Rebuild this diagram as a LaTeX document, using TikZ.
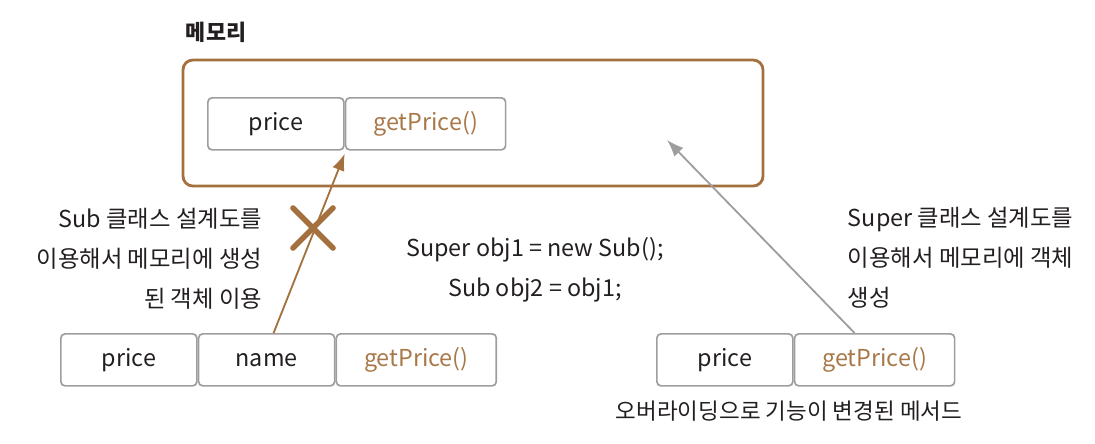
\documentclass[tikz,border=0pt]{standalone}
\usepackage{fontspec}
\setmainfont{Noto Sans CJK KR}
\usetikzlibrary{positioning,arrows.meta}
\definecolor{memBrown}{RGB}{164,112,62}
\definecolor{methodBrown}{RGB}{168,120,72}
\definecolor{boxGray}{RGB}{158,158,158}
\definecolor{textDark}{RGB}{35,31,32}

\tikzset{
  txt/.style={font=\fontsize{16.6}{28.5}\selectfont, text=textDark},
  field/.style={txt, draw=boxGray, line width=1.2pt, rounded corners=3pt,
    inner sep=0pt, minimum height=1.3cm, minimum width=3.4cm},
  method/.style={field, text=methodBrown, minimum width=4cm},
  memory/.style={draw=memBrown, line width=2pt, rounded corners=7pt}
}

\begin{document}
\begin{tikzpicture}[x=0.025cm, y=-0.025cm]
  \useasboundingbox (0,0) rectangle (1095,443);

  % memory area
  \node[txt, font=\fontsize{15.5}{18}\selectfont\bfseries, anchor=west] (memlabel) at (181,32) {메모리};
  \draw[memory] (183,60) rectangle (763,186);
  \node[field, anchor=north west] (tprice) at (207,97) {price};
  \node[method, right=0pt of tprice] (tget) {getPrice()};

  % object of Sub
  \node[field, anchor=north west] (lprice) at (60,333) {price};
  \node[field, right=0pt of lprice] (lname) {name};
  \node[method, right=0pt of lname] (lget) {getPrice()};

  % object of Super
  \node[field, anchor=north west] (rprice) at (656,333) {price};
  \node[method, right=0pt of rprice] (rget) {getPrice()};

  % explanations
  \node[txt, align=right, anchor=east] (subnote) at (267,259)
    {Sub 클래스 설계도를\\이용해서 메모리에 생성\\된 객체 이용};
  \node[txt, align=center] (code) at (535,270)
    {Super obj1 = new Sub();\\Sub obj2 = obj1;};
  \node[txt, align=left, anchor=west] (supernote) at (843,258)
    {Super 클래스 설계도를\\이용해서 메모리에 객체\\생성};
  \node[txt, font=\fontsize{16}{20}\selectfont] (overnote) at (789,411) {오버라이딩으로 기능이 변경된 메서드};

  % references
  \coordinate (lstart) at ([xshift=0.175cm]lname.north);
  \coordinate (ltarget) at ([yshift=-0.075cm]tget.south west);
  \draw[memBrown, line width=1.3pt, -{Latex[length=12pt,width=9pt]}] (lstart) -- (ltarget);
  \coordinate (rstart) at ([xshift=-0.5cm]rget.north);
  \coordinate (rtarget) at (667,140);
  \draw[boxGray, line width=1.3pt, -{Latex[length=12pt,width=9pt]}] (rstart) -- (rtarget);

  % cross
  \coordinate (cross) at (313,228);
  \draw[memBrown, line width=4pt, line cap=round]
    ([shift={(-20,-20)}]cross) -- ([shift={(20,20)}]cross)
    ([shift={(-20,20)}]cross) -- ([shift={(20,-20)}]cross);
\end{tikzpicture}
\end{document}
